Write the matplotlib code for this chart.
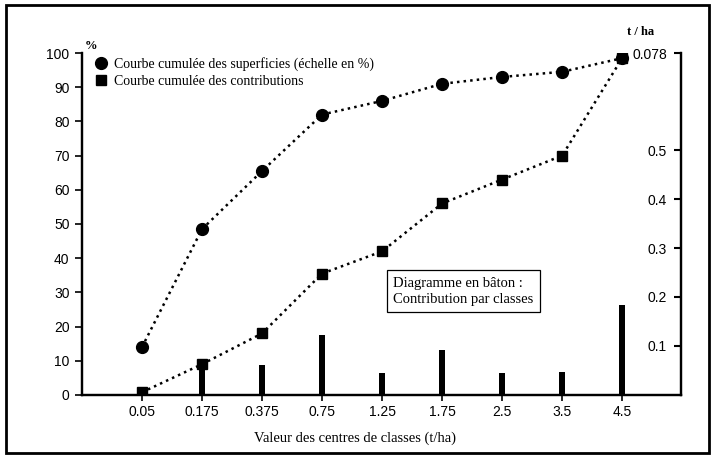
import matplotlib.pyplot as plt
from matplotlib.lines import Line2D
from matplotlib.patches import Rectangle

# ---------------------- DATA ----------------------

classes = ['0.05', '0.175', '0.375', '0.75', '1.25', '1.75', '2.5', '3.5', '4.5']
superficies = [14, 48.5, 65.5, 82, 86, 91, 93, 94.5, 98.5]      # % cumulated area
contributions = [0.8, 9, 18, 35.5, 42, 56, 63, 70, 98.5]        # % cumulated contribution
contrib_classe = [0.004, 0.053, 0.061, 0.122, 0.045, 0.092, 0.045, 0.047, 0.184]  # t/ha per class

left_ticks = [0, 10, 20, 30, 40, 50, 60, 70, 80, 90, 100]
right_ticks = [0.1, 0.2, 0.3, 0.4, 0.5, 0.698]
right_labels = ['0.1', '0.2', '0.3', '0.4', '0.5', '0.078']

serif = 'Liberation Serif'
sans = 'Liberation Sans'

# ---------------------- FIGURE ----------------------

fig = plt.figure(figsize=(7.14, 4.63), dpi=100)
ax = fig.add_axes([0.1148, 0.1469, 0.839, 0.7386])
ax2 = ax.twinx()

x = list(range(len(classes)))

# bars (right scale)
ax2.bar(x, contrib_classe, width=0.11, color='black', zorder=2)
ax2.set_ylim(0, 0.698)
ax2.set_yticks(right_ticks)
ax2.set_yticklabels(right_labels, fontsize=10, family=sans)
ax2.tick_params(axis='y', direction='in', length=5, width=1.5, pad=-10)
for lab in ax2.get_yticklabels():
    lab.set_ha('right')

# cumulated curves (left scale)
ax.set_zorder(ax2.get_zorder() + 1)
ax.patch.set_visible(False)
ax.plot(x, superficies, linestyle=':', color='black', lw=1.8,
        marker='o', markersize=8.5, zorder=3)
ax.plot(x, contributions, linestyle=':', color='black', lw=1.8,
        marker='s', markersize=7.5, zorder=3)

ax.set_xlim(-1, 8.98)
ax.set_ylim(0, 100)
ax.set_xticks(x)
ax.set_xticklabels(classes, fontsize=10, family=sans)
ax.set_yticks(left_ticks)
ax.tick_params(axis='y', labelsize=10, length=5, width=1.2, pad=4)
ax.tick_params(axis='x', length=4, width=1.2, pad=3)
for lab in ax.get_yticklabels():
    lab.set_family(sans)

for a in (ax, ax2):
    a.spines['top'].set_visible(False)
    for s in ('left', 'right', 'bottom'):
        a.spines[s].set_linewidth(1.6)

fig.text(0.497, 0.054, 'Valeur des centres de classes (t/ha)', fontsize=10.5,
         family=serif, ha='center', va='center')

# legend
handles = [
    Line2D([], [], linestyle='none', marker='o', markersize=8.5, color='black'),
    Line2D([], [], linestyle='none', marker='s', markersize=7.5, color='black'),
]
ax.legend(handles, ['Courbe cumulée des superficies (échelle en %)',
                    'Courbe cumulée des contributions'],
          loc='upper left', bbox_to_anchor=(0.0, 1.025), frameon=False,
          handlelength=1.0, handletextpad=0.4, labelspacing=0.3,
          prop={'family': serif, 'size': 10})

# text box
ax.text(0.52, 0.304, 'Diagramme en bâton :\nContribution par classes',
        transform=ax.transAxes, fontsize=10.5, family=serif, va='center', ha='left',
        linespacing=1.3,
        bbox=dict(boxstyle='square,pad=0.45', facecolor='white', edgecolor='black', lw=0.9))

# axis unit labels
fig.text(0.127, 0.895, '%', fontsize=9, family=serif, weight='bold', ha='center')
fig.text(0.897, 0.925, 't / ha', fontsize=9, family=serif, weight='bold', ha='center')

# outer frame
fig.patches.append(Rectangle((0.008, 0.022), 0.985, 0.968, transform=fig.transFigure,
                             fill=False, edgecolor='black', lw=2))

fig.savefig('out.png', dpi=100)
